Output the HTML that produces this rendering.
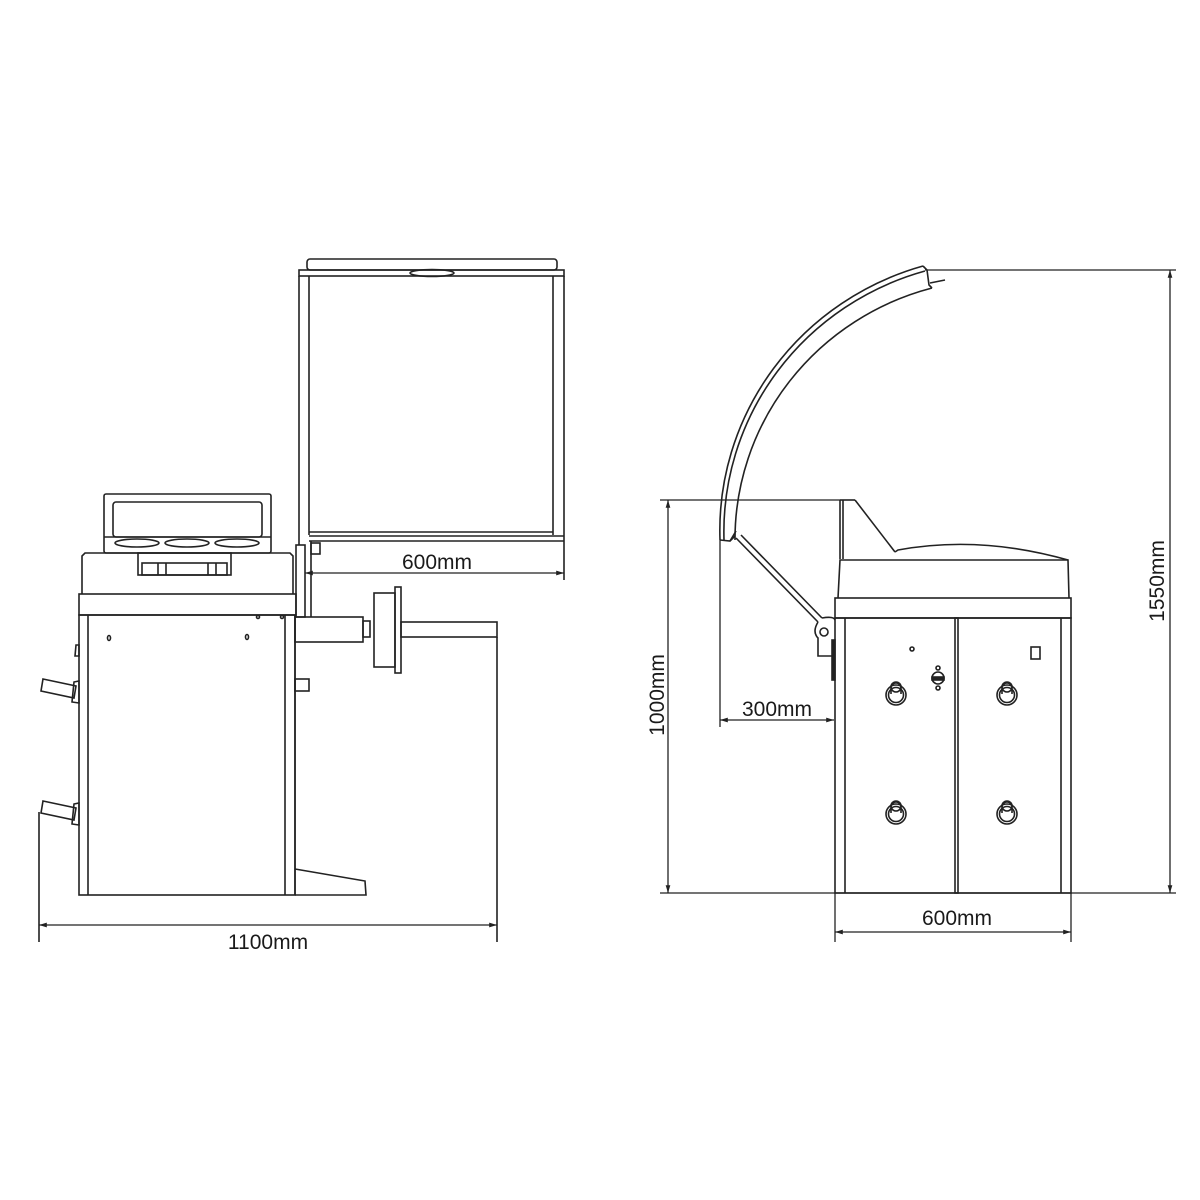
<!DOCTYPE html>
<html><head><meta charset="utf-8"><style>
html,body{margin:0;padding:0;background:#fff;}
svg{display:block;}
text{font-family:"Liberation Sans",sans-serif;font-size:21px;fill:#1a1a1a;}
</style></head><body>
<svg width="1200" height="1200" viewBox="0 0 1200 1200" xmlns="http://www.w3.org/2000/svg">
<defs>
<marker id="a" viewBox="0 0 10 10" refX="10" refY="5" markerWidth="9" markerHeight="6" orient="auto-start-reverse"><path d="M0,2 L10,5 L0,8z" fill="#222"/></marker>
</defs>
<g fill="none" stroke="#222" stroke-width="1.6">
<!-- LEFT MACHINE -->
<rect x="307" y="259" width="250" height="11" rx="3"/>
<rect x="299" y="270" width="265" height="6"/>
<ellipse cx="432" cy="273" rx="22" ry="3.5"/>
<line x1="299" y1="276" x2="299" y2="545"/>
<line x1="309" y1="276" x2="309" y2="535"/>
<line x1="553" y1="276" x2="553" y2="535"/>
<line x1="564" y1="276" x2="564" y2="580"/>
<line x1="309" y1="532" x2="553" y2="532"/>
<line x1="309" y1="536" x2="564" y2="536"/>
<line x1="309" y1="541" x2="564" y2="541"/>
<rect x="311" y="543" width="9" height="11"/>
<rect x="296" y="545" width="9" height="72"/>
<line x1="311" y1="541" x2="311" y2="617"/>
<rect x="104" y="494" width="167" height="59" rx="2"/>
<rect x="113" y="502" width="149" height="35" rx="3"/>
<line x1="104" y1="537" x2="271" y2="537"/>
<ellipse cx="137" cy="543" rx="22" ry="4"/>
<ellipse cx="187" cy="543" rx="22" ry="4"/>
<ellipse cx="237" cy="543" rx="22" ry="4"/>
<path d="M82,594 L82,556 L85,553 L290,553 L293,556 L293,594"/>
<rect x="138" y="553" width="93" height="22"/>
<rect x="142" y="563" width="85" height="12"/>
<line x1="158" y1="563" x2="158" y2="575"/><line x1="166" y1="563" x2="166" y2="575"/>
<line x1="208" y1="563" x2="208" y2="575"/><line x1="216" y1="563" x2="216" y2="575"/>
<rect x="79" y="594" width="217" height="21"/>
<rect x="79" y="615" width="216" height="280"/>
<line x1="88" y1="615" x2="88" y2="895"/>
<line x1="285" y1="615" x2="285" y2="895"/>
<ellipse cx="109" cy="638" rx="1.5" ry="2.5"/>
<ellipse cx="247" cy="637" rx="1.5" ry="2.5"/>
<circle cx="258" cy="617" r="1.5"/><circle cx="282" cy="617" r="1.5"/>
<path d="M43,679 L76,686 L74,698 L41,691Z"/>
<path d="M74,682 L79,681 L79,703 L72,702Z"/>
<path d="M43,801 L76,808 L74,820 L41,813Z"/>
<path d="M74,804 L79,803 L79,825 L72,824Z"/>
<path d="M76,645 L79,645 L79,656 L75,656Z"/>
<line x1="295" y1="615" x2="295" y2="895"/>
<path d="M295,869 L365,881 L366,895 L295,895"/>
<rect x="295" y="617" width="68" height="25"/>
<rect x="363" y="621" width="7" height="16"/>
<rect x="374" y="593" width="21" height="74"/>
<rect x="395" y="587" width="6" height="86"/>
<rect x="401" y="622" width="96" height="15"/>
<line x1="497" y1="637" x2="497" y2="942"/>
<rect x="295" y="679" width="14" height="12"/>
<line x1="39" y1="812" x2="39" y2="942"/>
<!-- RIGHT MACHINE -->
<path d="M720,540 A280,275 0 0 1 923,266"/>
<path d="M724,540 A276,271 0 0 1 925,271"/>
<path d="M735,540 A265,260 0 0 1 932,288"/>
<path d="M923,266 L927,270 L929,285 L932,288"/>
<path d="M930,283 L945,280"/>
<path d="M720,540 L730,541 L735,536"/>
<path d="M730,541 L736,531"/>
<line x1="736" y1="538" x2="818" y2="622"/>
<line x1="741" y1="535" x2="822" y2="618"/>
<path d="M818,622 Q812,632 818,638 L818,656 L834,656"/>
<circle cx="824" cy="632" r="4"/>
<path d="M822,618 Q834,616 835,620"/>
<rect x="832" y="640" width="3" height="40" fill="#222"/>
<line x1="840" y1="500" x2="840" y2="559"/>
<line x1="843" y1="500" x2="843" y2="559"/>
<line x1="840" y1="500" x2="855" y2="500"/>
<line x1="855" y1="500" x2="895" y2="552"/>
<path d="M895,552 L898,550 Q980,535 1068,560"/>
<path d="M838,598 L840,560 L1068,560 L1069,598"/>
<rect x="835" y="598" width="236" height="20"/>
<rect x="835" y="618" width="236" height="275"/>
<line x1="845" y1="618" x2="845" y2="893"/>
<line x1="1061" y1="618" x2="1061" y2="893"/>
<rect x="955" y="618" width="3" height="275"/>
<circle cx="912" cy="649" r="2"/>
<rect x="1031" y="647" width="9" height="12"/>
<circle cx="938" cy="678" r="6"/>
<rect x="932" y="677" width="12" height="3" fill="#222"/>
<circle cx="938" cy="668" r="2"/><circle cx="938" cy="688" r="2"/>
<g id="k"><circle cx="896" cy="695" r="10"/><circle cx="896" cy="695" r="7.5"/><path d="M891,694 L891,686 Q896,680 901,686 L901,694"/><circle cx="896" cy="687" r="5"/></g>
<use href="#k" x="111" y="0"/>
<use href="#k" x="0" y="119"/>
<use href="#k" x="111" y="119"/>
</g>
<g stroke="#222" stroke-width="1.3" fill="none">
<line x1="305" y1="573" x2="564" y2="573" marker-start="url(#a)" marker-end="url(#a)"/>
<line x1="39" y1="925" x2="497" y2="925" marker-start="url(#a)" marker-end="url(#a)"/>
<line x1="925" y1="270" x2="1176" y2="270"/>
<line x1="660" y1="893" x2="1176" y2="893"/>
<line x1="1170" y1="270" x2="1170" y2="893" marker-start="url(#a)" marker-end="url(#a)"/>
<line x1="660" y1="500" x2="840" y2="500"/>
<line x1="668" y1="500" x2="668" y2="893" marker-start="url(#a)" marker-end="url(#a)"/>
<line x1="720" y1="540" x2="720" y2="727"/>
<line x1="720" y1="720" x2="834" y2="720" marker-start="url(#a)" marker-end="url(#a)"/>
<line x1="835" y1="893" x2="835" y2="942"/>
<line x1="1071" y1="893" x2="1071" y2="942"/>
<line x1="835" y1="932" x2="1071" y2="932" marker-start="url(#a)" marker-end="url(#a)"/>
</g>
<text x="437" y="569" text-anchor="middle">600mm</text>
<text x="268" y="949" text-anchor="middle">1100mm</text>
<text x="777" y="716" text-anchor="middle">300mm</text>
<text x="957" y="925" text-anchor="middle">600mm</text>
<text transform="translate(664,695) rotate(-90)" text-anchor="middle">1000mm</text>
<text transform="translate(1164,581) rotate(-90)" text-anchor="middle">1550mm</text>
</svg>
</body></html>
